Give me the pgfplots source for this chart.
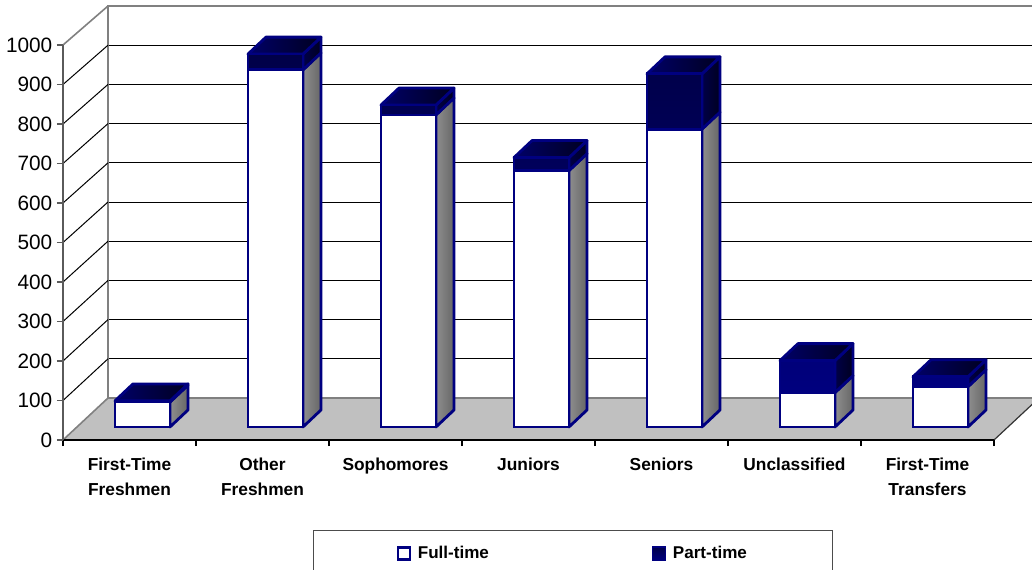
\documentclass[border=0pt]{standalone}
\usepackage{fontspec}
\setmainfont{Liberation Sans}
\usepackage{pgfplots}
\usepackage{pgfplotstable}
\pgfplotsset{compat=1.18}
\definecolor{navy}{HTML}{000080}
\definecolor{navydark}{HTML}{000048}
\definecolor{floorgray}{HTML}{C0C0C0}
\definecolor{wallgray}{HTML}{808080}
\definecolor{sidelight}{HTML}{8E8E8E}
\definecolor{sidedark}{HTML}{666666}
\definecolor{topl}{HTML}{000068}
\definecolor{topr}{HTML}{000020}

\pgfplotstableread{
idx full part
0 63 3
1 904 40
2 790 25
3 649 33
4 754 140
5 87 81
6 102 25
}\enroll

\begin{document}
\begin{tikzpicture}
\useasboundingbox (-47.25pt,-96.75pt) rectangle (726.75pt,330pt);
\clip (-47.25pt,-96.75pt) rectangle (726.75pt,330pt);
% ---------- back wall (back plane) ----------
\begin{axis}[at={(33.75pt,31.5pt)}, anchor=south west, scale only axis,
  width=698.25pt, height=294pt, xmin=-0.5, xmax=6.5, ymin=0, ymax=1000,
  hide axis, clip=false]
\pgfplotsinvokeforeach{100,200,...,900}{
  \addplot[black, line width=0.75pt] coordinates {(-0.5,#1) (6.5,#1)};
}
\addplot[wallgray, line width=1.2pt] coordinates {(-0.5,0) (-0.5,1000) (6.5,1000)};
\end{axis}
% ---------- floor, left wall, bar depth faces (front plane) ----------
\begin{axis}[at={(0pt,0pt)}, anchor=south west, scale only axis,
  width=698.25pt, height=296.25pt, xmin=-0.5, xmax=6.5, ymin=0, ymax=1000,
  hide axis, clip=false]
\addplot[fill=floorgray, draw=none] coordinates {(-0.5,0) (6.5,0) (6.8383,106.3) (-0.1617,106.3)} -- cycle;
\addplot[wallgray, line width=1.2pt] coordinates {(-0.1617,106.3) (6.8383,106.3)};
\addplot[black!80, line width=0.9pt] coordinates {(6.5,0) (6.8383,106.3)};
\addplot[wallgray, line width=1.2pt] coordinates {(-0.5,0) (-0.1617,106.3)};
\addplot[black, line width=0.75pt] coordinates {(-0.5,100) (-0.1617,205.5)};
\addplot[black, line width=0.75pt] coordinates {(-0.5,200) (-0.1617,304.8)};
\addplot[black, line width=0.75pt] coordinates {(-0.5,300) (-0.1617,404.0)};
\addplot[black, line width=0.75pt] coordinates {(-0.5,400) (-0.1617,503.3)};
\addplot[black, line width=0.75pt] coordinates {(-0.5,500) (-0.1617,602.5)};
\addplot[black, line width=0.75pt] coordinates {(-0.5,600) (-0.1617,701.7)};
\addplot[black, line width=0.75pt] coordinates {(-0.5,700) (-0.1617,801.0)};
\addplot[black, line width=0.75pt] coordinates {(-0.5,800) (-0.1617,900.2)};
\addplot[black, line width=0.75pt] coordinates {(-0.5,900) (-0.1617,999.5)};
\addplot[wallgray, line width=1.2pt] coordinates {(-0.5,1000) (-0.1617,1098.7)};
\pgfplotsinvokeforeach{0,...,6}{
  \pgfplotstablegetelem{#1}{full}\of\enroll \pgfmathsetmacro\F{\pgfplotsretval}
  \pgfplotstablegetelem{#1}{part}\of\enroll \pgfmathsetmacro\P{\pgfplotsretval}
  \pgfmathsetmacro\L{#1-0.1091}
  \pgfmathsetmacro\R{#1+0.3045}
  \pgfmathsetmacro\Rb{\R+0.1353}
  \pgfmathsetmacro\Lb{\L+0.1353}
  \pgfmathsetmacro\ya{33}
  \pgfmathsetmacro\yab{33+43}
  \pgfmathsetmacro\yb{33+\F}
  \pgfmathsetmacro\ybb{\yb+43}
  \pgfmathsetmacro\yc{\yb+\P}
  \pgfmathsetmacro\ycb{\yc+43}
  \addplot[draw=navy, line width=2.1pt, line join=round, left color=sidelight, right color=sidedark]
    coordinates {(\R,\ya) (\Rb,\yab) (\Rb,\ybb) (\R,\yb)} -- cycle;
  \addplot[draw=navy, line width=2.1pt, line join=round, left color=navydark, right color=topr]
    coordinates {(\R,\yb) (\Rb,\ybb) (\Rb,\ycb) (\R,\yc)} -- cycle;
  \addplot[draw=navy, line width=2.1pt, line join=round, left color=topl, right color=topr]
    coordinates {(\L,\yc) (\R,\yc) (\Rb,\ycb) (\Lb,\ycb)} -- cycle;
}
\end{axis}
% ---------- front faces, axes, ticks, legend ----------
\begin{axis}[at={(0pt,0pt)}, anchor=south west, scale only axis,
  width=698.25pt, height=296.25pt, xmin=-0.5, xmax=6.5, ymin=0, ymax=1000,
  clip=false,
  ybar stacked, bar width=41.25pt, bar shift=9.75pt,
  axis x line*=bottom, axis y line*=left,
  x axis line style={black, line width=0.8pt},
  y axis line style={wallgray!70!black, line width=1.3pt},
  xtick={-0.5,0.5,1.5,2.5,3.5,4.5,5.5,6.5},
  x tick label as interval,
  xticklabels={{First-Time\\Freshmen},{Other\\Freshmen},Sophomores,Juniors,Seniors,Unclassified,{First-Time\\Transfers}},
  ytick={0,100,...,1000},
  tick align=outside,
  major tick length=4.5pt,
  xtick style={black, line width=0.8pt},
  ytick style={wallgray!70!black, line width=1pt},
  xticklabel style={font=\bfseries\fontsize{13pt}{18.75pt}\selectfont, align=center, text=black, yshift=-5.5pt},
  yticklabel style={font=\fontsize{15.6pt}{18pt}\selectfont, text=black},
  /pgf/number format/assume math mode=true,
  /pgf/number format/1000 sep={},
  legend columns=2,
  legend style={at={(axis description cs:0.2685,-0.2278)}, anchor=north west,
    draw=black!70, line width=0.75pt, inner xsep=62.5pt, inner ysep=10pt,
    font=\bfseries\fontsize{12.8pt}{15pt}\selectfont,
    column sep=3pt, /tikz/every even column/.append style={column sep=120pt}},
]
\addplot[draw=none, fill=none, forget plot] coordinates {(0,33) (1,33) (2,33) (3,33) (4,33) (5,33) (6,33)};
\addplot[draw=navy, fill=white, line width=2.1pt,
  legend image code/.code={\draw[navy, line width=1.8pt, fill=white] (0pt,-4.5pt) rectangle (9pt,4.5pt);}]
  table[x=idx, y=full] \enroll;
\addplot[draw=navy, top color=navydark, bottom color=navy, line width=2.1pt,
  legend image code/.code={\draw[navy, line width=1pt, fill=navy] (0pt,-5pt) rectangle (10pt,5pt);}]
  table[x=idx, y=part] \enroll;
\legend{Full-time, Part-time}
\end{axis}
\end{tikzpicture}
\end{document}
